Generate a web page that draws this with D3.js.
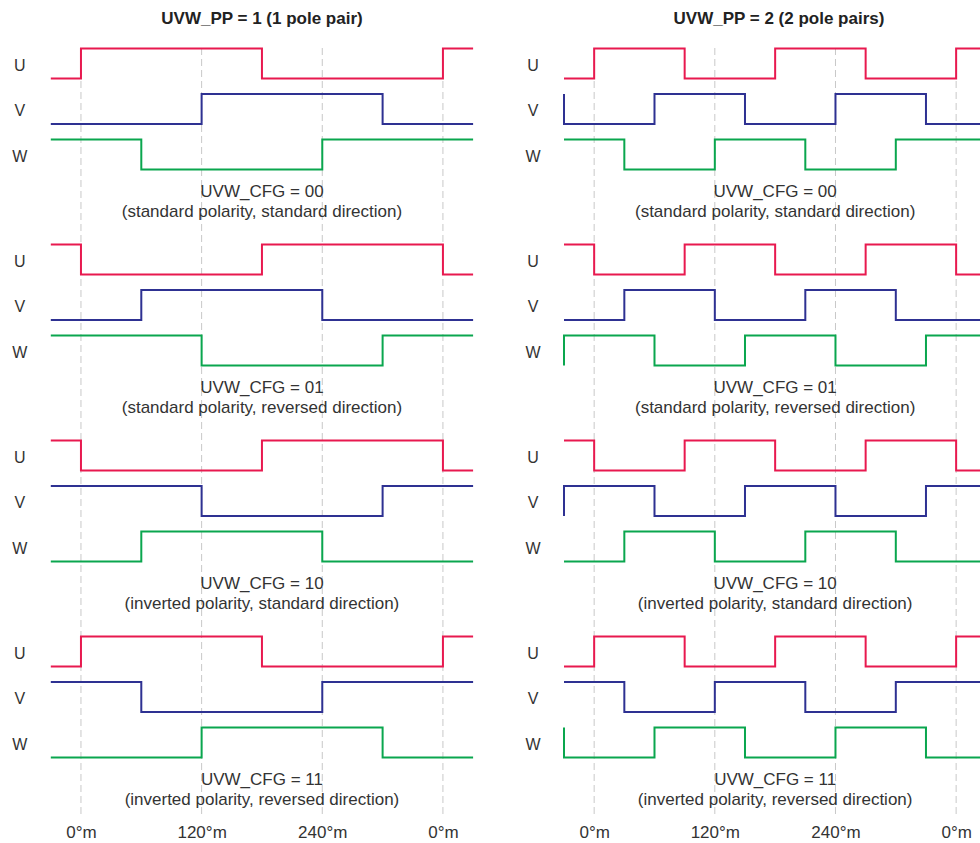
<!DOCTYPE html>
<html>
<head>
<meta charset="utf-8">
<script src="https://cdn.jsdelivr.net/npm/d3@7"></script>
<style>
  body { margin: 0; background: #fff; }
  svg { display: block; font-family: "Liberation Sans", Arial, sans-serif; }
</style>
</head>
<body>
<div id="plot"></div>
<script>
// panels: pole pairs
const panelTitles = ["UVW_PP = 1 (1 pole pair)", "UVW_PP = 2 (2 pole pairs)"];
const cfgCodes = ["00", "01", "10", "11"];
const cfgNotes = [
    "(standard polarity, standard direction)",
    "(standard polarity, reversed direction)",
    "(inverted polarity, standard direction)",
    "(inverted polarity, reversed direction)"
];
const signals = ["U", "V", "W"];
const angleRange = [-30, 390];
const tickAngles = [0, 120, 240, 360];
const tickLabels = ["0°m", "120°m", "240°m", "0°m"];

// level at -30°m (1 = high) and the angles (°m) where each signal toggles
const pp1Start = [[0, 0, 1], [1, 0, 1], [1, 1, 0], [0, 1, 0]];
const pp1Edges = [
    [[0, 180, 360], [120, 300], [60, 240]],
    [[0, 180, 360], [60, 240], [120, 300]],
    [[0, 180, 360], [120, 300], [60, 240]],
    [[0, 180, 360], [60, 240], [120, 300]]
];
const pp2Start = [[0, 1, 1], [1, 0, 0], [1, 0, 0], [0, 1, 1]];
const pp2Edges = [
    [[0, 90, 180, 270, 360], [-30, 60, 150, 240, 330], [30, 120, 210, 300]],
    [[0, 90, 180, 270, 360], [30, 120, 210, 300], [-30, 60, 150, 240, 330]],
    [[0, 90, 180, 270, 360], [-30, 60, 150, 240, 330], [30, 120, 210, 300]],
    [[0, 90, 180, 270, 360], [30, 120, 210, 300], [-30, 60, 150, 240, 330]]
];

const colors = ["#e8194f", "#2e3192", "#0aa64e"];
const textColor = "#333";

const width = 980, height = 843;
const panels = [
    { title: panelTitles[0], start: pp1Start, edges: pp1Edges, range: [50.8, 473.1], titleX: 262 },
    { title: panelTitles[1], start: pp2Start, edges: pp2Edges, range: [564, 986.3], titleX: 779 }
];

let svg = d3.select("#plot")
    .append("svg")
    .attr("width", width)
    .attr("height", height);

const blockY = d3.scalePoint().domain(cfgCodes).range([48.5, 48.5 + 3 * 196]);
const trackY = d3.scalePoint().domain(signals).range([0, 91]);
const levelY = d3.scaleLinear().domain([0, 1]).range([30, 0]);

// turn a start level + toggle angles into step points
const toSteps = (start, edges) => {
    let pts = [{ a: angleRange[0], v: start }];
    let v = start;
    edges.forEach(e => {
        v = 1 - v;
        pts.push({ a: e, v: v });
    });
    pts.push({ a: angleRange[1], v: v });
    return pts;
};

panels.forEach(p => {
    const x = d3.scaleLinear().domain(angleRange).range(p.range);
    const g = svg.append("g");
    const cx = (p.range[0] + p.range[1]) / 2;

    // dashed guides
    g.selectAll("line.guide")
        .data(tickAngles)
        .join("line")
        .attr("class", "guide")
        .attr("x1", d => x(d)).attr("x2", d => x(d))
        .attr("y1", 48).attr("y2", 816)
        .attr("stroke", "#c8c8c8")
        .attr("stroke-width", 1)
        .attr("stroke-dasharray", "7,4");

    g.append("text")
        .attr("x", p.titleX)
        .attr("y", 24)
        .attr("text-anchor", "middle")
        .attr("font-size", "17px")
        .attr("font-weight", "bold")
        .attr("fill", "#222")
        .text(p.title);

    cfgCodes.forEach((code, ci) => {
        const by = blockY(code);
        signals.forEach((s, si) => {
            const ty = by + trackY(s);
            g.append("path")
                .datum(toSteps(p.start[ci][si], p.edges[ci][si]))
                .attr("fill", "none")
                .attr("stroke", colors[si])
                .attr("stroke-width", 2)
                .attr("d", d3.line()
                    .x(d => x(d.a))
                    .y(d => ty + levelY(d.v))
                    .curve(d3.curveStepAfter));

            g.append("text")
                .attr("x", p.range[0] - 31)
                .attr("y", ty + 22)
                .attr("text-anchor", "middle")
                .attr("font-size", "16px")
                .attr("fill", textColor)
                .text(s);
        });

        g.append("text")
            .attr("x", cx)
            .attr("y", by + 148.5)
            .attr("text-anchor", "middle")
            .attr("font-size", "17px")
            .attr("fill", textColor)
            .text("UVW_CFG = " + code);
        g.append("text")
            .attr("x", cx)
            .attr("y", by + 168.5)
            .attr("text-anchor", "middle")
            .attr("font-size", "17px")
            .attr("fill", textColor)
            .text(cfgNotes[ci]);
    });

    const axis = g.append("g")
        .attr("transform", "translate(0,826)")
        .call(d3.axisBottom(x)
            .tickValues(tickAngles)
            .tickFormat((d, i) => tickLabels[i])
            .tickSize(0)
            .tickPadding(0));
    axis.select(".domain").remove();
    axis.selectAll("text")
        .attr("dy", "0.71em")
        .attr("font-size", "17px")
        .attr("font-family", "Liberation Sans, Arial, sans-serif")
        .attr("fill", textColor);
});
</script>
</body>
</html>
